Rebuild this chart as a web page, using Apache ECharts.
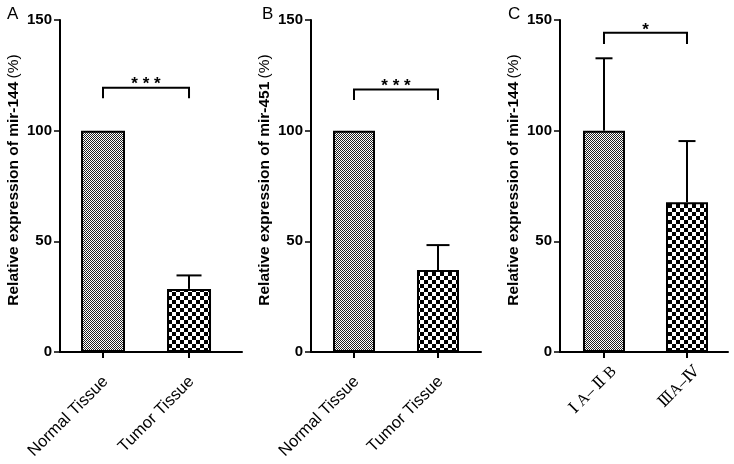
<!DOCTYPE html>
<html><head><meta charset="utf-8">
<script src="https://cdn.jsdelivr.net/npm/echarts@6/dist/echarts.min.js"></script>
<style>html,body{margin:0;padding:0;background:#fff}#c{width:734px;height:464px}</style>
</head><body><div id="c"></div>
<script>
// ---- data ----
const categoriesAB = ["Normal Tissue", "Tumor Tissue"];
const categoriesC = ["Ⅰ A– Ⅱ B", "ⅢA–Ⅳ"];
const valuesA = [100, 28.5];
const sdA = [0, 6.1];
const valuesB = [100, 37.0];
const sdB = [0, 11.3];
const valuesC = [100, 67.7];
const sdC = [32.7, 27.6];
const sigLabels = ["* * *", "* * *", "*"];
const sigHeights = [119.4, 118.6, 144.2];
const sigDrop = [4.8, 4.8, 5.0];
const yTitles = ["Relative expression of mir-144", "Relative expression of mir-451", "Relative expression of mir-144"];
const panelLetters = ["A", "B", "C"];

// ---- styles ----
const FONT = 'Liberation Sans, Arial, sans-serif';
function makeChecker(s, a, b) {
  const c = document.createElement('canvas');
  c.width = c.height = 2 * s;
  const g = c.getContext('2d');
  g.fillStyle = b; g.fillRect(0, 0, 2 * s, 2 * s);
  g.fillStyle = a; g.fillRect(0, 0, s, s); g.fillRect(s, s, s, s);
  return c;
}
const fine = { image: makeChecker(1, '#222', '#fff'), repeat: 'repeat' };
const coarse = { image: makeChecker(4, '#000', '#fff'), repeat: 'repeat' };
const patterns = [fine, coarse];

const grids = [
  { left: 60, top: 20, width: 182, height: 332 },
  { left: 311, top: 20, width: 170, height: 332 },
  { left: 560, top: 20, width: 168, height: 332 }
];
const xRanges = [[-0.5, 1.616], [-0.512, 1.512], [-0.53, 1.494]];
const barWidths = [44, 42, 42];
const capWidths = [25, 23, 17];
const labelMargins = [27, 27, 17];
const labelShift = [0.03, 0.03, 0.12];
const catSets = [categoriesAB, categoriesAB, categoriesC];
const valSets = [valuesA, valuesB, valuesC];
const sdSets = [sdA, sdB, sdC];

const xAxes = [], yAxes = [], series = [], titles = [];
for (let i = 0; i < 3; i++) {
  const cats = catSets[i];
  const sh = labelShift[i];
  xAxes.push({
    type: 'value', gridIndex: i, min: xRanges[i][0], max: xRanges[i][1],
    splitLine: { show: false },
    axisLine: { show: true, onZero: false, lineStyle: { color: '#000', width: 2 } },
    axisTick: { show: true, customValues: [0, 1], length: 6, lineStyle: { color: '#000', width: 2 } },
    axisLabel: {
      customValues: [sh, 1 + sh], rotate: 45, margin: labelMargins[i], color: '#000',
      fontFamily: i === 2 ? 'Liberation Serif, DejaVu Serif, Noto Sans CJK SC, serif' : FONT,
      fontSize: i === 2 ? 16 : 16.5,
      formatter: v => cats[Math.round(v - sh)]
    }
  });
  yAxes.push({
    type: 'value', gridIndex: i, min: 0, max: 150, interval: 50,
    splitLine: { show: false },
    axisLine: { show: true, onZero: false, lineStyle: { color: '#000', width: 2 } },
    axisTick: { show: true, length: 6, lineStyle: { color: '#000', width: 1.5 } },
    axisLabel: { color: '#000', fontFamily: FONT, fontWeight: 'bold', fontSize: 15, margin: 8 },
    name: '{b|' + yTitles[i] + '} {n|(%)}',
    nameLocation: 'middle', nameGap: 38, nameRotate: 90,
    nameTextStyle: {
      padding: [0, 0, 0, 12],
      rich: {
        b: { fontFamily: FONT, fontWeight: 'bold', fontSize: 15.5, color: '#000' },
        n: { fontFamily: FONT, fontWeight: 'normal', fontSize: 15.5, color: '#000' }
      }
    }
  });
  const vals = valSets[i];
  series.push({
    type: 'bar', xAxisIndex: i, yAxisIndex: i, barWidth: barWidths[i],
    data: vals.map((v, k) => ({ value: [k, v], itemStyle: { color: patterns[k], borderColor: '#000', borderWidth: 2 } })),
    z: 2
  });
  const capW = capWidths[i];
  series.push({
    type: 'custom', xAxisIndex: i, yAxisIndex: i, z: 3,
    data: vals.map((v, k) => [k, v, v + sdSets[i][k]]).filter(d => d[2] > d[1]),
    renderItem: (params, api) => {
      const x = api.value(0), m = api.value(1), t = api.value(2);
      const p0 = api.coord([x, m]), p1 = api.coord([x, t]);
      const hw = capW / 2;
      return { type: 'group', children: [
        { type: 'line', shape: { x1: p0[0], y1: p0[1], x2: p1[0], y2: p1[1] }, style: { stroke: '#000', lineWidth: 2 } },
        { type: 'line', shape: { x1: p1[0] - hw, y1: p1[1], x2: p1[0] + hw, y2: p1[1] }, style: { stroke: '#000', lineWidth: 2 } }
      ] };
    }
  });
  const lab = sigLabels[i];
  series.push({
    type: 'custom', xAxisIndex: i, yAxisIndex: i, z: 3,
    data: [[0, 1, sigHeights[i], sigHeights[i] - sigDrop[i]]],
    renderItem: (params, api) => {
      const a = api.coord([api.value(0), api.value(2)]);
      const b = api.coord([api.value(1), api.value(2)]);
      const e = api.coord([api.value(0), api.value(3)]);
      return { type: 'group', children: [
        { type: 'polyline', shape: { points: [[a[0], e[1]], a, b, [b[0], e[1]]] }, style: { stroke: '#000', lineWidth: 2, fill: null } },
        { type: 'text', x: (a[0] + b[0]) / 2, y: a[1] - 3, style: { text: lab, font: 'bold 17px ' + FONT, fill: '#000', align: 'center', verticalAlign: 'middle' } }
      ] };
    }
  });
}
const letterPos = [[7, 6], [262, 6], [508, 6]];
for (let i = 0; i < 3; i++) {
  titles.push({ text: panelLetters[i], left: letterPos[i][0], top: letterPos[i][1], padding: 0,
    textStyle: { fontFamily: FONT, fontWeight: 'normal', fontSize: 17, color: '#000' } });
}

const chart = echarts.init(document.getElementById('c'), null, { renderer: 'canvas' });
chart.setOption({
  animation: false,
  backgroundColor: '#fff',
  title: titles,
  grid: grids,
  xAxis: xAxes,
  yAxis: yAxes,
  series: series
});
</script></body></html>
